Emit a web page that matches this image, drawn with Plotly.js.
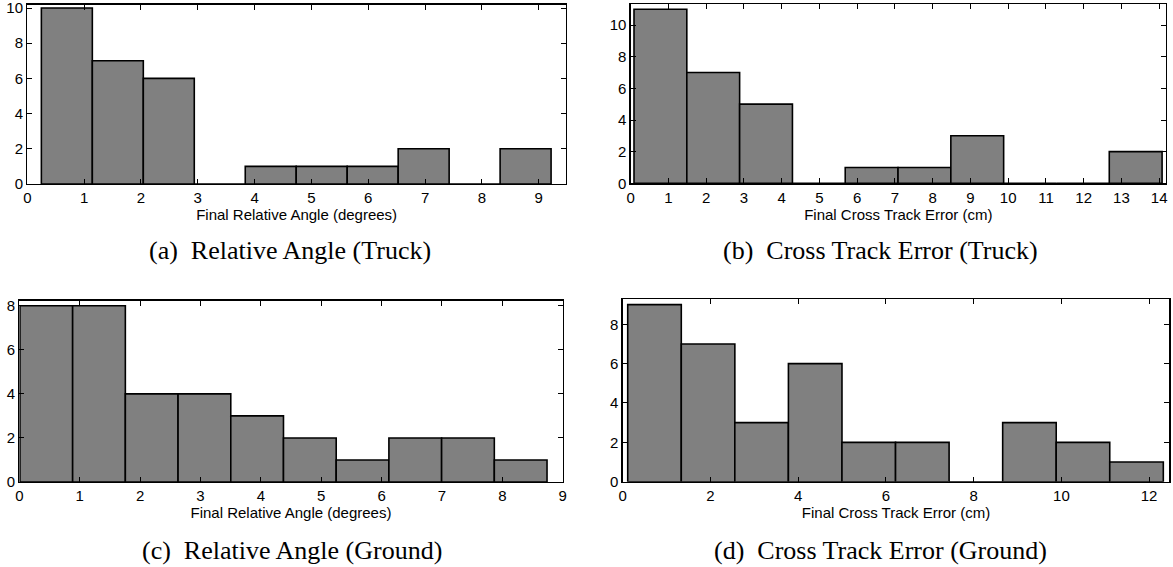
<!DOCTYPE html>
<html>
<head>
<meta charset="utf-8">
<script src="https://cdn.plot.ly/plotly-3.0.1.min.js"></script>
<style>html,body{margin:0;padding:0;background:#fff;}#chart{width:1173px;height:567px;}</style>
</head>
<body>
<div id="chart"></div>
<script>
// (a) Relative Angle (Truck)
const angleTruckCenters = [0.696, 1.593, 2.490, 3.387, 4.284, 5.181, 6.078, 6.975, 7.872, 8.769];
const angleTruckCounts  = [10, 7, 6, 0, 1, 1, 1, 2, 0, 2];
const angleTruckBinWidth = 0.897;
// (b) Cross Track Error (Truck)
const cteTruckCenters = [0.787, 2.186, 3.585, 4.983, 6.382, 7.781, 9.180, 10.579, 11.978, 13.377];
const cteTruckCounts  = [11, 7, 5, 0, 1, 1, 3, 0, 0, 2];
const cteTruckBinWidth = 1.399;
// (c) Relative Angle (Ground)
const angleGroundCenters = [0.447, 1.320, 2.193, 3.066, 3.939, 4.812, 5.685, 6.558, 7.431, 8.304];
const angleGroundCounts  = [8, 8, 4, 4, 3, 2, 1, 2, 2, 1];
const angleGroundBinWidth = 0.873;
// (d) Cross Track Error (Ground)
const cteGroundCenters = [0.725, 1.946, 3.166, 4.388, 5.609, 6.830, 8.050, 9.272, 10.492, 11.713];
const cteGroundCounts  = [9, 7, 3, 6, 2, 2, 0, 3, 2, 1];
const cteGroundBinWidth = 1.221;

const xTitles = ["Final Relative Angle (degrees)", "Final Cross Track Error (cm)",
                 "Final Relative Angle (degrees)", "Final Cross Track Error (cm)"];
const captions = ["(a)\u2002Relative Angle (Truck)", "(b)\u2002Cross Track Error (Truck)",
                  "(c)\u2002Relative Angle (Ground)", "(d)\u2002Cross Track Error (Ground)"];

const W = 1173, H = 567;
const px = v => v / W, py = v => 1 - v / H;

function bar(x, y, w, xa, ya) {
  return {type: 'bar', x: x, y: y, width: w, xaxis: xa, yaxis: ya,
    marker: {color: '#808080', line: {color: '#000', width: 1.6}},
    hoverinfo: 'x+y', showlegend: false};
}
const data = [
  bar(angleTruckCenters, angleTruckCounts, angleTruckBinWidth, 'x', 'y'),
  bar(cteTruckCenters, cteTruckCounts, cteTruckBinWidth, 'x2', 'y2'),
  bar(angleGroundCenters, angleGroundCounts, angleGroundBinWidth, 'x3', 'y3'),
  bar(cteGroundCenters, cteGroundCounts, cteGroundBinWidth, 'x4', 'y4')
];

const tickFont = {family: 'Liberation Sans, Arial, sans-serif', size: 15, color: '#000'};
function xax(dom, range, dtick, title, anchor) {
  return {domain: dom, range: range, dtick: dtick, tick0: 0, anchor: anchor,
    showgrid: false, zeroline: false, showline: true, linecolor: '#000', linewidth: 1.3,
    mirror: 'ticks', ticks: 'inside', ticklen: 5, tickwidth: 1, tickcolor: '#000',
    tickfont: tickFont, fixedrange: true, ticklabeloverflow: 'allow',
    title: {text: title, font: {family: 'Liberation Sans, Arial, sans-serif', size: 15, color: '#000'}, standoff: 0}};
}
function yax(dom, range, anchor) {
  return {domain: dom, range: range, dtick: 2, tick0: 0, anchor: anchor,
    showgrid: false, zeroline: false, showline: true, linecolor: '#000', linewidth: 1.3,
    mirror: 'ticks', ticks: 'inside', ticklen: 5, tickwidth: 1, tickcolor: '#000',
    tickfont: tickFont, fixedrange: true, ticklabeloverflow: 'allow'};
}

const capFont = {family: 'Liberation Serif, Times New Roman, serif', size: 26, color: '#000'};
function cap(text, xc, yc) {
  return {text: text, xref: 'paper', yref: 'paper', x: px(xc), y: py(yc),
    xanchor: 'center', yanchor: 'middle', showarrow: false, font: capFont};
}

const layout = {
  width: W, height: H,
  margin: {l: 0, r: 0, t: 0, b: 0},
  paper_bgcolor: '#fff', plot_bgcolor: '#fff',
  bargap: 0,
  xaxis:  xax([px(27.3), px(566)], [0, 9.48], 1, xTitles[0], 'y'),
  yaxis:  yax([py(184), py(4.5)], [0, 10.2], 'x'),
  xaxis2: xax([px(630.7), px(1166)], [0, 14.18], 1, xTitles[1], 'y2'),
  yaxis2: yax([py(183.3), py(4)], [0, 11.33], 'x2'),
  xaxis3: xax([px(19.3), px(562.7)], [0, 9], 1, xTitles[2], 'y3'),
  yaxis3: yax([py(482), py(300.7)], [0, 8.23], 'x3'),
  xaxis4: xax([px(622.7), px(1169.3)], [0, 12.46], 2, xTitles[3], 'y4'),
  yaxis4: yax([py(481.7), py(299.3)], [0, 9.27], 'x4'),
  annotations: [
    cap(captions[0], 290, 250),
    cap(captions[1], 880, 250),
    cap(captions[2], 292, 550),
    cap(captions[3], 880, 550)
  ]
};

Plotly.newPlot('chart', data, layout, {displayModeBar: false, staticPlot: true});
</script>
</body>
</html>
